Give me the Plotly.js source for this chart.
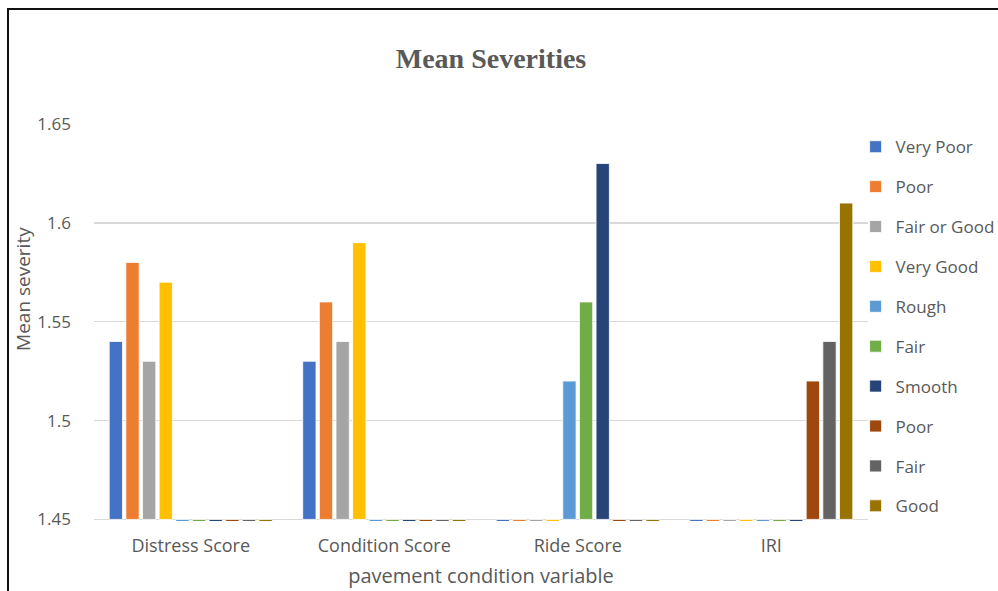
<!DOCTYPE html>
<html>
<head>
<meta charset="utf-8">
<script src="https://cdn.plot.ly/plotly-3.0.1.min.js"></script>
<style>
  html, body { margin: 0; padding: 0; background: #fff; overflow: hidden; }
  #wrap { position: relative; width: 998px; height: 591px; }
  #chart { position: absolute; left: 0; top: 0; width: 998px; height: 591px; }
  #frame { position: absolute; left: 7px; top: 8px; width: 1200px; height: 800px;
           border-left: 2px solid #111; border-top: 2px solid #111; pointer-events: none; }
</style>
</head>
<body>
<div id="wrap">
  <div id="chart"></div>
  <div id="frame"></div>
</div>
<script>
// Pavement condition variables on the category axis
const categories = ['Distress Score', 'Condition Score', 'Ride Score', 'IRI'];

// Mean severity per condition class (0 = class not used by that variable)
const veryPoor   = [1.54, 1.53, 0, 0];
const poor       = [1.58, 1.56, 0, 0];
const fairOrGood = [1.53, 1.54, 0, 0];
const veryGood   = [1.57, 1.59, 0, 0];
const rough      = [0, 0, 1.52, 0];
const fairRide   = [0, 0, 1.56, 0];
const smooth     = [0, 0, 1.63, 0];
const poorIri    = [0, 0, 0, 1.52];
const fairIri    = [0, 0, 0, 1.54];
const goodIri    = [0, 0, 0, 1.61];

const seriesNames = ['Very Poor', 'Poor', 'Fair or Good', 'Very Good', 'Rough', 'Fair', 'Smooth', 'Poor', 'Fair', 'Good'];
const seriesValues = [veryPoor, poor, fairOrGood, veryGood, rough, fairRide, smooth, poorIri, fairIri, goodIri];
const seriesColors = ['#4472C4', '#ED7D31', '#A5A5A5', '#FFC000', '#5B9BD5', '#70AD47', '#264478', '#9E480E', '#636363', '#997300'];

const yTickVals = [1.45, 1.5, 1.55, 1.6, 1.65];
const yTickText = ['1.45', '1.5', '1.55', '1.6', '1.65'];

// Bars grow from the axis crossing value, like a spreadsheet chart with a raised minimum
const axisBase = 1.45;
const textGrey = '#595959';
const sans = 'Open Sans, Arial, sans-serif';

const traces = seriesValues.map((vals, i) => ({
  type: 'bar',
  name: seriesNames[i],
  x: categories,
  y: vals.map(v => v - axisBase),
  base: axisBase,
  legendgroup: 'g' + i,
  marker: { color: seriesColors[i], line: { color: '#ffffff', width: 0.8 } },
  hoverinfo: 'skip'
}));

const layout = {
  width: 998,
  height: 591,
  paper_bgcolor: '#ffffff',
  plot_bgcolor: '#ffffff',
  margin: { l: 94, r: 130, t: 124, b: 70.4, autoexpand: false },
  barmode: 'group',
  bargap: 0.14,
  bargroupgap: 0.2,
  showlegend: true,
  title: {
    text: '<b>Mean Severities</b>',
    font: { family: 'Liberation Serif, Times New Roman, serif', size: 28, color: textGrey },
    x: 0.492, xref: 'container', xanchor: 'center',
    y: 0.902, yref: 'container', yanchor: 'middle'
  },
  xaxis: {
    type: 'category',
    showgrid: false,
    showline: false,
    ticks: '',
    ticklabelstandoff: 12,
    tickfont: { family: sans, size: 18, color: textGrey },
    title: { text: 'pavement condition variable', font: { family: sans, size: 20, color: textGrey }, standoff: 12 }
  },
  yaxis: {
    range: [1.4492, 1.65],
    tickvals: yTickVals,
    ticktext: yTickText,
    showgrid: true,
    gridcolor: '#d9d9d9',
    gridwidth: 1.5,
    zeroline: false,
    showline: false,
    ticks: '',
    ticklabelstandoff: 22,
    tickfont: { family: sans, size: 17, color: textGrey }
  },
  legend: {
    x: 0.984, xanchor: 'left',
    y: 0.987, yanchor: 'top',
    traceorder: 'grouped',
    tracegroupgap: 14.8,
    itemwidth: 30,
    font: { family: sans, size: 17, color: textGrey },
    bgcolor: 'rgba(0,0,0,0)'
  },
  annotations: [{
    text: 'Mean severity',
    textangle: -90,
    xref: 'paper', yref: 'paper',
    x: -0.0915, y: 0.585,
    xanchor: 'center', yanchor: 'middle',
    showarrow: false,
    font: { family: sans, size: 19, color: textGrey }
  }]
};

Plotly.newPlot('chart', traces, layout, { staticPlot: true, displayModeBar: false });
</script>
</body>
</html>
